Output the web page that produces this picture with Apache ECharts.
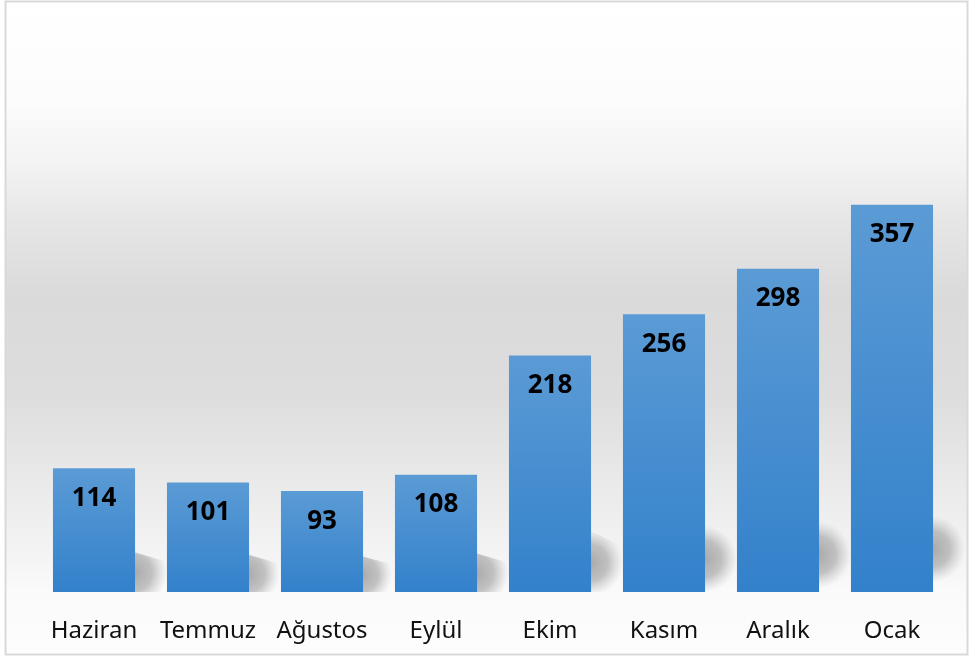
<!DOCTYPE html>
<html>
<head>
<meta charset="utf-8">
<script src="https://cdn.jsdelivr.net/npm/echarts@6/dist/echarts.min.js"></script>
<style>
  html, body { margin: 0; padding: 0; background: #fff; }
  #chart { width: 969px; height: 657px; }
</style>
</head>
<body>
<div id="chart"></div>
<script>
// months (Turkish) and counts
const months = ['Haziran', 'Temmuz', 'Ağustos', 'Eylül', 'Ekim', 'Kasım', 'Aralık', 'Ocak'];
const counts = [114, 101, 93, 108, 218, 256, 298, 357];

const chart = echarts.init(document.getElementById('chart'));
const FONT = '"Noto Sans", "DejaVu Sans", sans-serif';

// soft floor shadow behind each bar, placed from the axis coords
function renderShadow(params, api) {
  const top = api.coord([api.value(0), api.value(1)]);
  const base = api.coord([api.value(0), 0]);
  const half = api.size([1, 0])[0] * 0.36;
  const h = base[1] - top[1];
  const dx = 32;
  const dy = 0.2 * h + 18;
  const xR = base[0] + half;
  return {
    type: 'polygon',
    shape: {
      points: [
        [xR - 10, base[1] - dy],
        [xR + dx, base[1] - dy * 0.7],
        [xR + dx, base[1]],
        [xR - 10, base[1]]
      ]
    },
    style: {
      fill: {
        type: 'radial', x: 0.2, y: 0.55, r: 0.8,
        colorStops: [
          { offset: 0, color: 'rgba(160,160,160,0.9)' },
          { offset: 0.55, color: 'rgba(170,170,170,0.7)' },
          { offset: 1, color: 'rgba(190,190,190,0)' }
        ]
      }
    }
  };
}

const option = {
  animation: false,
  graphic: [
    {
      type: 'rect',
      z: -10,
      silent: true,
      shape: { x: 5.5, y: 1.5, width: 962, height: 653 },
      style: {
        stroke: '#d9d9d9',
        lineWidth: 2,
        fill: {
          type: 'linear', x: 0, y: 0, x2: 0, y2: 1,
          colorStops: [
            { offset: 0, color: '#ffffff' },
            { offset: 0.15, color: '#fcfcfc' },
            { offset: 0.25, color: '#f3f3f3' },
            { offset: 0.33, color: '#e7e7e7' },
            { offset: 0.45, color: '#dadada' },
            { offset: 0.6, color: '#dddddd' },
            { offset: 0.75, color: '#ebebeb' },
            { offset: 0.86, color: '#f5f5f5' },
            { offset: 0.9, color: '#fafafa' },
            { offset: 1, color: '#fdfdfd' }
          ]
        }
      }
    }
  ],
  grid: { left: 37, right: 20, top: 158, bottom: 65 },
  xAxis: {
    type: 'category',
    data: months,
    axisLine: { show: false },
    axisTick: { show: false },
    axisLabel: { interval: 0, color: '#111', fontSize: 24, fontFamily: FONT, margin: 27 }
  },
  yAxis: {
    type: 'value',
    min: 0,
    max: 400,
    show: false,
    splitLine: { show: false }
  },
  series: [
    {
      type: 'custom',
      renderItem: renderShadow,
      data: counts.map((v, i) => [i, v]),
      z: 1,
      silent: true
    },
    {
      type: 'bar',
      data: counts,
      barWidth: '72%',
      z: 2,
      itemStyle: {
        color: {
          type: 'linear', x: 0, y: 0, x2: 0, y2: 1,
          colorStops: [
            { offset: 0, color: '#5b9bd5' },
            { offset: 1, color: '#3381cb' }
          ]
        }
      },
      label: {
        show: true,
        position: 'insideTop',
        distance: 17,
        color: '#000',
        fontSize: 26,
        fontWeight: 'bold',
        fontFamily: FONT
      }
    }
  ]
};

chart.setOption(option);
</script>
</body>
</html>
